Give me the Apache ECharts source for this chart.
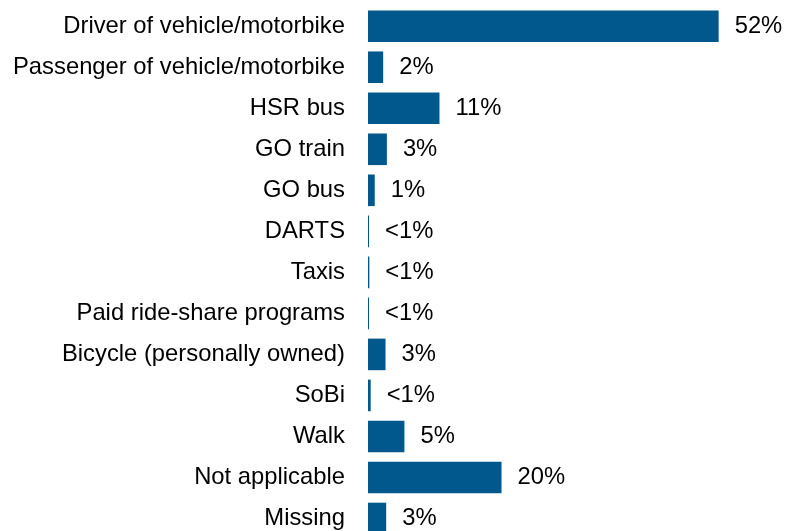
<!DOCTYPE html>
<html>
<head>
<meta charset="utf-8">
<script src="https://cdn.jsdelivr.net/npm/echarts@6/dist/echarts.min.js"></script>
<style>
  html, body { margin: 0; padding: 0; background: #ffffff; overflow: hidden; }
  /* the canvas is a little taller than the window: the last row runs past the bottom edge */
  #chart { width: 785px; height: 545px; }
</style>
</head>
<body>
<div id="chart"></div>
<script>
// Mode of travel shares (percent of respondents)
const categories = [
  'Driver of vehicle/motorbike',
  'Passenger of vehicle/motorbike',
  'HSR bus',
  'GO train',
  'GO bus',
  'DARTS',
  'Taxis',
  'Paid ride-share programs',
  'Bicycle (personally owned)',
  'SoBi',
  'Walk',
  'Not applicable',
  'Missing'
];
const shares = [52.0, 2.25, 10.6, 2.8, 1.0, 0.15, 0.2, 0.15, 2.6, 0.4, 5.4, 19.8, 2.7];

// Percent label text; shares under half a percent read as "<1%"
function shareLabel(v) {
  return v < 0.5 ? '<1%' : Math.round(v) + '%';
}

const FONT = 'Liberation Sans, Arial, sans-serif';
const chart = echarts.init(document.getElementById('chart'), null, { renderer: 'canvas' });

chart.setOption({
  animation: false,
  backgroundColor: '#ffffff',
  grid: { left: 368, width: 404.6, top: 5.7, height: 533.3, containLabel: false },
  xAxis: {
    type: 'value',
    min: 0,
    max: 60,
    show: false
  },
  yAxis: {
    type: 'category',
    data: categories,
    inverse: true,
    axisLine: { show: false },
    axisTick: { show: false },
    splitLine: { show: false },
    axisLabel: {
      margin: 23,
      color: '#000000',
      fontFamily: FONT,
      fontSize: 23.8
    }
  },
  series: [{
    type: 'bar',
    data: shares,
    barWidth: 31.6,
    itemStyle: { color: '#00588C' },
    label: {
      show: true,
      position: 'right',
      distance: 16,
      color: '#000000',
      fontFamily: FONT,
      fontSize: 23.8,
      formatter: p => shareLabel(p.value)
    }
  }]
});
</script>
</body>
</html>
